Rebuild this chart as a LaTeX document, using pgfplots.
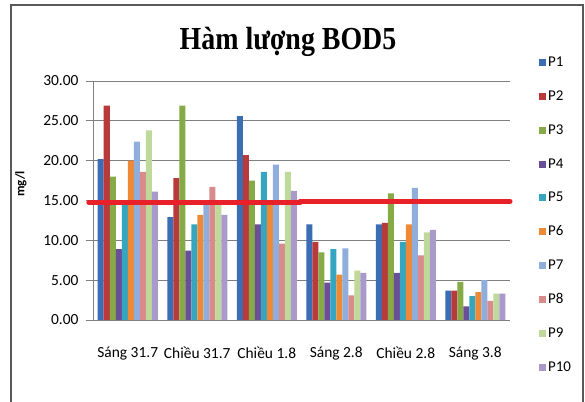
\documentclass[border=0pt]{standalone}
\usepackage{pgfplots}
\pgfplotsset{compat=1.18}
\usepackage{pgfplotstable}
\usepackage{fontspec}
\setmainfont{Carlito}
\newfontfamily\titlefont{Liberation Serif}

\definecolor{cP1}{HTML}{3B6DB4}
\definecolor{cP2}{HTML}{B93A3A}
\definecolor{cP3}{HTML}{86AB46}
\definecolor{cP4}{HTML}{6A4E98}
\definecolor{cP5}{HTML}{36A6C0}
\definecolor{cP6}{HTML}{EE8A36}
\definecolor{cP7}{HTML}{90AEDC}
\definecolor{cP8}{HTML}{D98A8B}
\definecolor{cP9}{HTML}{BFD99A}
\definecolor{cP10}{HTML}{A99ACB}
\definecolor{limitred}{HTML}{E8202A}

% BOD5 (mg/l) at ten sampling points, six sampling sessions
\pgfplotstableread{
x P1 P2 P3 P4 P5 P6 P7 P8 P9 P10
0 20.2 26.9 18.0 8.9 14.5 20.0 22.4 18.6 23.8 16.1
1 12.9 17.8 26.9 8.7 12.0 13.2 14.5 16.7 14.5 13.2
2 25.6 20.7 17.5 12.0 18.6 14.5 19.5 9.6 18.6 16.2
3 12.0 9.8 8.5 4.7 8.9 5.7 9.0 3.1 6.2 5.9
4 12.0 12.2 15.9 5.9 9.8 12.0 16.6 8.1 11.0 11.3
5 3.7 3.7 4.8 1.7 3.0 3.5 5.0 2.4 3.3 3.3
}\bodtable

\begin{document}
\begin{tikzpicture}
\useasboundingbox (0,0) rectangle (585bp,402bp);
\draw[black!65, line width=1.2bp] (11bp,-5bp) rectangle (583bp,397bp);
\node[anchor=base] at (288bp,352bp)
  {\scalebox{1}[1.15]{\titlefont\bfseries\fontsize{28}{32}\selectfont Hàm lượng BOD5}};
\node[rotate=90, font=\bfseries\fontsize{13}{15}\selectfont] at (21bp,218bp) {mg/l};
\begin{axis}[
  at={(93bp,82bp)}, anchor=south west,
  scale only axis, width=417bp, height=239bp,
  xmin=-0.5, xmax=5.5, ymin=0, ymax=30,
  ybar=0pt, bar width=6bp,
  clip=false,
  axis x line*=bottom, axis y line*=left,
  axis line style={black!50, line width=0.8bp},
  ymajorgrids, grid style={black!50, line width=0.8bp},
  xtick={0,1,2,3,4,5},
  xticklabels={Sáng 31.7, Chiều 31.7, Chiều 1.8, Sáng 2.8, Chiều 2.8, Sáng 3.8},
  x tick style={draw=none},
  ytick={0,5,...,30},
  y tick style={black!50, line width=0.8bp},
  tick align=outside, major tick length=7bp,
  ticklabel style={font=\fontsize{15.5}{18}\selectfont},
  xticklabel style={yshift=-16bp},
  yticklabel style={xshift=-4bp},
  /pgf/number format/.cd, fixed, fixed zerofill, precision=2, assume math mode=true,
  /pgfplots/.cd,
  legend style={at={(1.062,1.117)}, anchor=north west, draw=none, fill=none,
    font=\fontsize{15}{18}\selectfont, row sep=18.6bp},
  legend cell align=left,
  legend image code/.code={\fill[#1] (0bp,-3.5bp) rectangle (7bp,3.5bp);},
]
\addplot[draw=none, fill=cP1] table[x=x, y=P1] {\bodtable};
\addplot[draw=none, fill=cP2] table[x=x, y=P2] {\bodtable};
\addplot[draw=none, fill=cP3] table[x=x, y=P3] {\bodtable};
\addplot[draw=none, fill=cP4] table[x=x, y=P4] {\bodtable};
\addplot[draw=none, fill=cP5] table[x=x, y=P5] {\bodtable};
\addplot[draw=none, fill=cP6] table[x=x, y=P6] {\bodtable};
\addplot[draw=none, fill=cP7] table[x=x, y=P7] {\bodtable};
\addplot[draw=none, fill=cP8] table[x=x, y=P8] {\bodtable};
\addplot[draw=none, fill=cP9] table[x=x, y=P9] {\bodtable};
\addplot[draw=none, fill=cP10] table[x=x, y=P10] {\bodtable};
\legend{P1,P2,P3,P4,P5,P6,P7,P8,P9,P10}
% permitted limit line
\addplot[sharp plot, forget plot, limitred, line width=5bp, line cap=round]
  coordinates {(-0.56,14.75) (2.48,14.75)};
\addplot[sharp plot, forget plot, limitred, line width=5bp, line cap=round]
  coordinates {(2.48,14.9) (5.5,14.9)};
\end{axis}
\end{tikzpicture}
\end{document}
